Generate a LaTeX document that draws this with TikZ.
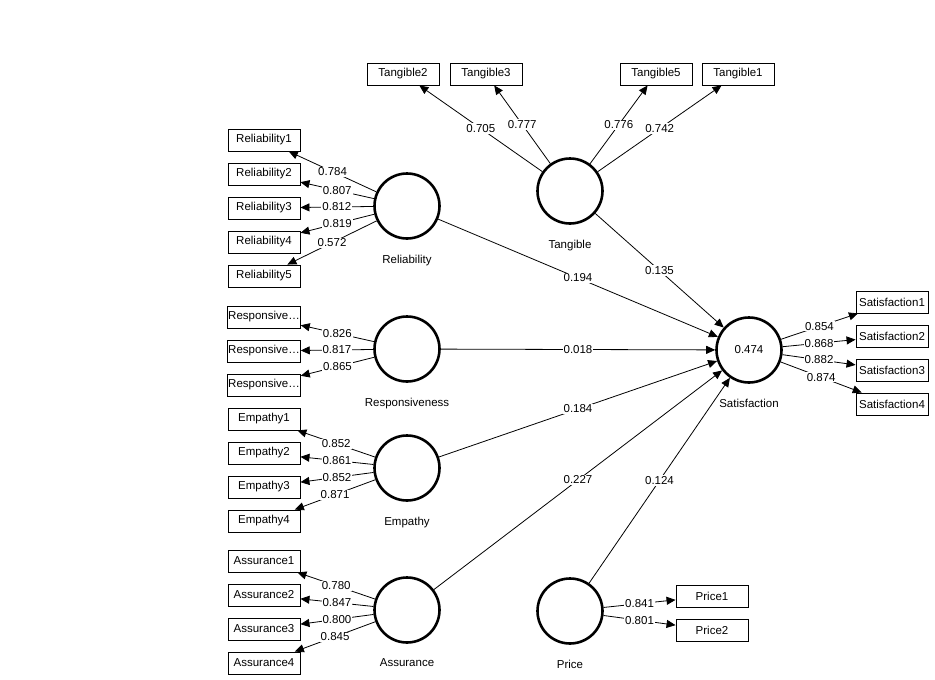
\documentclass[tikz,border=0pt]{standalone}
\usepackage{fontspec}
\setmainfont{Liberation Sans}
\usetikzlibrary{arrows.meta}
\usetikzlibrary{positioning}

\begin{document}
\begin{tikzpicture}
[x=1pt,y=-1pt,%
  latent/.style={shape=circle,draw,line width=2.6pt,minimum size=65pt,inner sep=0pt},%
  item/.style={shape=rectangle,draw,line width=0.9pt,minimum width=72pt,minimum height=22pt,inner xsep=0.5pt,inner ysep=2pt},%
  lvname/.style={inner sep=1pt},%
  path/.style={line width=0.8pt,-{Triangle[length=9pt,width=8pt]}},%
  val/.style={fill=white,inner sep=1pt}]
\fontsize{11.5}{13}\selectfont
\useasboundingbox (0,0) rectangle (935,680);

% latent variables
\node[latent] (tang) at (570,191) {};
\node[latent] (rel) at (407,206) {};
\node[latent] (resp) at (407,349) {};
\node[latent] (emp) at (407,468) {};
\node[latent] (ass) at (407,610) {};
\node[latent] (price) at (570,611) {};
\node[latent] (sat) at (749,350) {0.474};

\node[lvname,below=14pt of tang] (tanglab) {Tangible};
\node[lvname,below=14pt of rel] (rellab) {Reliability};
\node[lvname,below=14pt of resp] (resplab) {Responsiveness};
\node[lvname,below=14pt of emp] (emplab) {Empathy};
\node[lvname,below=14pt of ass] (asslab) {Assurance};
\node[lvname,below=14pt of price] (pricelab) {Price};
\node[lvname,below=14pt of sat] (satlab) {Satisfaction};

% indicators
\node[item] (t2) at (403,74) {Tangible2};
\node[item] (t3) at (486,74) {Tangible3};
\node[item] (t5) at (656,74) {Tangible5};
\node[item] (t1) at (738,74) {Tangible1};

\node[item] (r1) at (264,140) {Reliability1};
\node[item] (r2) at (264,174) {Reliability2};
\node[item] (r3) at (264,208) {Reliability3};
\node[item] (r4) at (264,242) {Reliability4};
\node[item] (r5) at (264,276) {Reliability5};

\node[item] (rs1) at (264,317) {Responsive\ldots};
\node[item] (rs2) at (264,351) {Responsive\ldots};
\node[item] (rs3) at (264,385) {Responsive\ldots};

\node[item] (e1) at (264,419) {Empathy1};
\node[item] (e2) at (264,453) {Empathy2};
\node[item] (e3) at (264,487) {Empathy3};
\node[item] (e4) at (264,521) {Empathy4};

\node[item] (a1) at (264,561) {Assurance1};
\node[item] (a2) at (264,595) {Assurance2};
\node[item] (a3) at (264,629) {Assurance3};
\node[item] (a4) at (264,663) {Assurance4};

\node[item] (s1) at (892,302) {Satisfaction1};
\node[item] (s2) at (892,336) {Satisfaction2};
\node[item] (s3) at (892,370) {Satisfaction3};
\node[item] (s4) at (892,404) {Satisfaction4};

\node[item] (p1) at (712,596) {Price1};
\node[item] (p2) at (712,630) {Price2};

% outer loadings
\draw[path] (tang) -- node[val] {0.705} (t2);
\draw[path] (tang) -- node[val] {0.777} (t3);
\draw[path] (tang) -- node[val] {0.776} (t5);
\draw[path] (tang) -- node[val] {0.742} (t1);

\draw[path] (rel) -- node[val] {0.784} (r1);
\draw[path] (rel) -- node[val] {0.807} (r2);
\draw[path] (rel) -- node[val] {0.812} (r3);
\draw[path] (rel) -- node[val] {0.819} (r4);
\draw[path] (rel) -- node[val] {0.572} (r5);

\draw[path] (resp) -- node[val] {0.826} (rs1);
\draw[path] (resp) -- node[val] {0.817} (rs2);
\draw[path] (resp) -- node[val] {0.865} (rs3);

\draw[path] (emp) -- node[val] {0.852} (e1);
\draw[path] (emp) -- node[val] {0.861} (e2);
\draw[path] (emp) -- node[val] {0.852} (e3);
\draw[path] (emp) -- node[val] {0.871} (e4);

\draw[path] (ass) -- node[val] {0.780} (a1);
\draw[path] (ass) -- node[val] {0.847} (a2);
\draw[path] (ass) -- node[val] {0.800} (a3);
\draw[path] (ass) -- node[val] {0.845} (a4);

\draw[path] (sat) -- node[val] {0.854} (s1);
\draw[path] (sat) -- node[val] {0.868} (s2);
\draw[path] (sat) -- node[val] {0.882} (s3);
\draw[path] (sat) -- node[val] {0.874} (s4);

\draw[path] (price) -- node[val] {0.841} (p1);
\draw[path] (price) -- node[val] {0.801} (p2);

% inner model
\draw[path] (tang) -- node[val] {0.135} (sat);
\draw[path] (rel) -- node[val] {0.194} (sat);
\draw[path] (resp) -- node[val] {0.018} (sat);
\draw[path] (emp) -- node[val] {0.184} (sat);
\draw[path] (ass) -- node[val] {0.227} (sat);
\draw[path] (price) -- node[val] {0.124} (sat);
\end{tikzpicture}
\end{document}
